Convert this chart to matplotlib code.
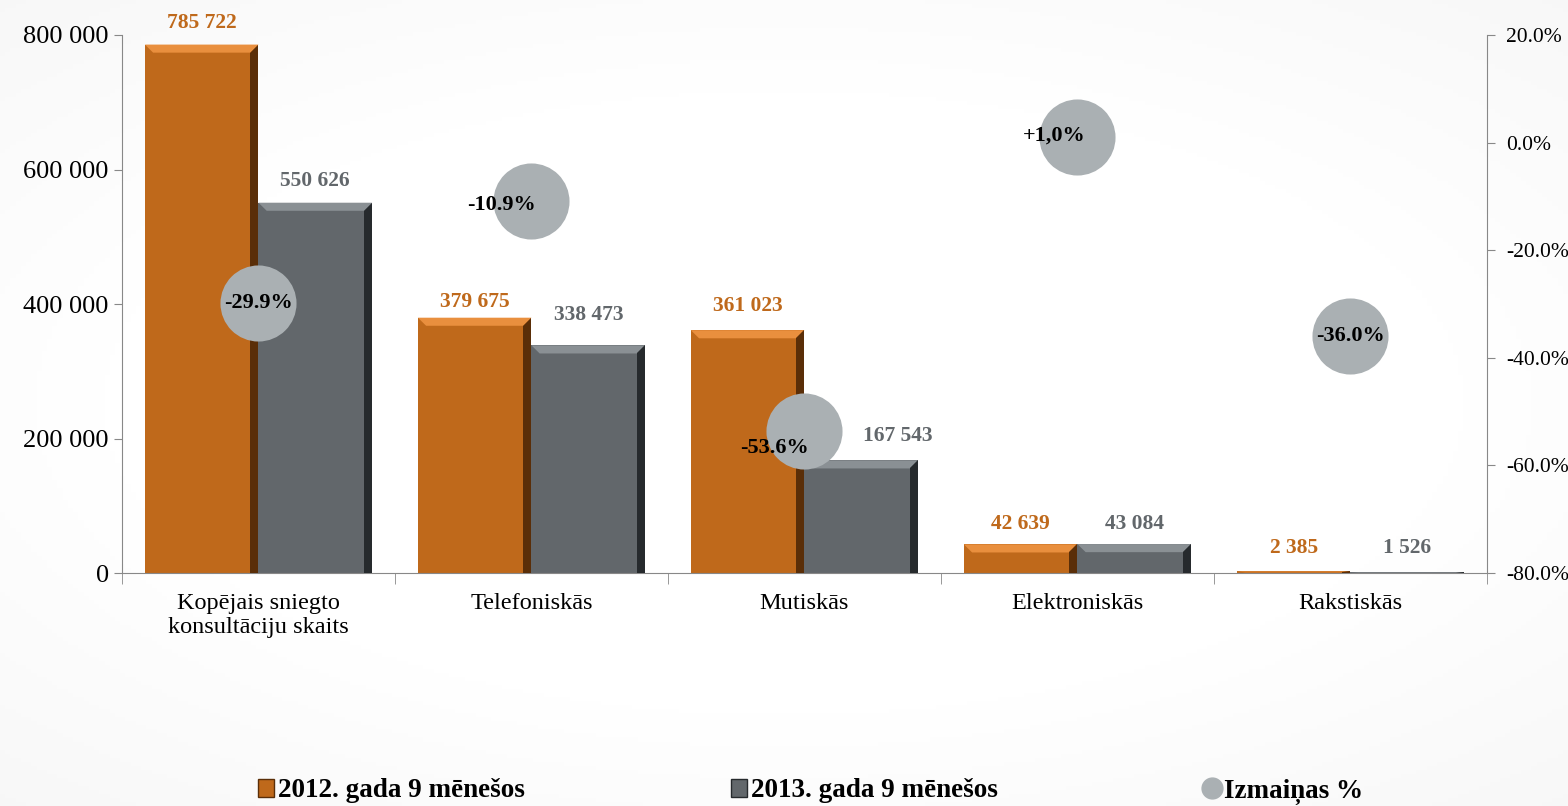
import numpy as np
import matplotlib.pyplot as plt
from matplotlib.patches import Polygon, Patch
from matplotlib.lines import Line2D
from matplotlib.ticker import FuncFormatter

plt.rcParams['font.family'] = ['Liberation Serif', 'DejaVu Serif']

# dati
categories = ['Kopējais sniegto\nkonsultāciju skaits', 'Telefoniskās', 'Mutiskās',
              'Elektroniskās', 'Rakstiskās']
val_2012 = [785722, 379675, 361023, 42639, 2385]
val_2013 = [550626, 338473, 167543, 43084, 1526]
change = [-29.9, -10.9, -53.6, 1.0, -36.0]
change_labels = ['-29.9%', '-10.9%', '-53.6%', '+1,0%', '-36.0%']
label_offsets = [(0, 0), (-30, -4), (-30, -17), (-23, 2), (0, 0)]  # px
off_2012 = [(0, 22), (0, 16), (0, 24), (0, 20), (0, 23)]  # px
off_2013 = [(0, 22), (0, 30), (37, 24), (0, 20), (0, 24)]  # px

c_or = '#bf691b'
c_or_light = '#e98f3e'
c_or_dark = '#5a2e08'
c_gr = '#62676b'
c_gr_light = '#8a9094'
c_gr_dark = '#262a2d'
c_bub = '#aab0b3'

fig = plt.figure(figsize=(15.68, 8.06), dpi=100)

# fona gradients
bg = fig.add_axes([0, 0, 1, 1], zorder=-10)
yy, xx = np.mgrid[-1:1:200j, -1:1:300j]
r = np.sqrt(xx ** 2 * 0.8 + yy ** 2)
bg.imshow(1 - 0.05 * np.clip(r - 0.7, 0, 1), cmap='gray', vmin=0, vmax=1,
          aspect='auto', extent=[0, 1, 0, 1])
bg.axis('off')

ax = fig.add_axes([0.0778, 0.289, 0.8705, 0.6676])
ax.patch.set_alpha(0)
x = np.arange(len(categories))
w = 0.416


def bevel_bar(x0, h, col, light, dark):
    ax.bar(x0, h, w, color=col, zorder=2, linewidth=0)
    dx = 0.03
    dy = min(12000, h / 2)
    l, rr = x0 - w / 2, x0 + w / 2
    ax.add_patch(Polygon([(l, h), (rr, h), (rr - dx, h - dy), (l + dx, h - dy)],
                         closed=True, color=light, zorder=3, lw=0))
    ax.add_patch(Polygon([(rr, h), (rr, 0), (rr - dx, 0), (rr - dx, h - dy)],
                         closed=True, color=dark, zorder=3, lw=0))


for i in range(len(categories)):
    bevel_bar(x[i] - w / 2, val_2012[i], c_or, c_or_light, c_or_dark)
    bevel_bar(x[i] + w / 2, val_2013[i], c_gr, c_gr_light, c_gr_dark)
    ax.annotate(f'{val_2012[i]:,}'.replace(',', ' '), (x[i] - w / 2, val_2012[i]),
                xytext=off_2012[i], textcoords='offset pixels', ha='center', va='center',
                fontsize=15.5, fontweight='bold', color=c_or)
    ax.annotate(f'{val_2013[i]:,}'.replace(',', ' '), (x[i] + w / 2, val_2013[i]),
                xytext=off_2013[i], textcoords='offset pixels', ha='center', va='center',
                fontsize=15.5, fontweight='bold', color=c_gr)

ax.set_xlim(-0.5, 4.5)
ax.set_ylim(0, 800000)
ax.set_yticks(np.arange(0, 800001, 200000))
ax.yaxis.set_major_formatter(FuncFormatter(lambda v, p: f'{int(v):,}'.replace(',', ' ')))
ax.set_xticks(x)
ax.set_xticklabels(categories, fontsize=17.5)
ax.set_xticks(np.arange(-0.5, 5, 1), minor=True)
ax.tick_params(axis='x', which='major', length=0, pad=14)
ax.tick_params(axis='x', which='minor', length=8, color='#888888')
ax.tick_params(axis='y', labelsize=19, length=6, color='#888888')
for s in ['left', 'bottom']:
    ax.spines[s].set_color('#888888')
ax.spines['top'].set_visible(False)
ax.spines['right'].set_visible(False)

ax2 = ax.twinx()
ax2.set_ylim(-80, 20)
ax2.set_yticks(np.arange(-80, 21, 20))
ax2.yaxis.set_major_formatter(FuncFormatter(lambda v, p: f'{v:.1f}%'))
ax2.tick_params(axis='y', labelsize=15.5, length=6, pad=8, color='#888888')
ax2.spines['right'].set_color('#888888')
for s in ['top', 'left', 'bottom']:
    ax2.spines[s].set_visible(False)
ax2.scatter(x, change, s=3000, color=c_bub, zorder=4, linewidths=0)
for i in range(len(categories)):
    ax2.annotate(change_labels[i], (x[i], change[i]),
                 xytext=label_offsets[i], textcoords='offset pixels', zorder=6,
                 ha='center', va='center', fontsize=16, fontweight='bold', color='black')

handles = [Patch(facecolor=c_or, edgecolor=c_or_dark, linewidth=1),
           Patch(facecolor=c_gr, edgecolor=c_gr_dark, linewidth=1),
           Line2D([], [], marker='o', linestyle='none', markersize=15,
                  markerfacecolor=c_bub, markeredgecolor=c_bub)]
fig.legend(handles, ['2012. gada 9 mēnešos', '2013. gada 9 mēnešos', 'Izmaiņas %'],
           loc='center', bbox_to_anchor=(0.517, 0.018), ncol=3, frameon=False,
           prop={'size': 19.5, 'weight': 'bold'}, columnspacing=7.6,
           handlelength=0.6, handleheight=0.6, handletextpad=0.15)

fig.savefig('out.png', dpi=100)
